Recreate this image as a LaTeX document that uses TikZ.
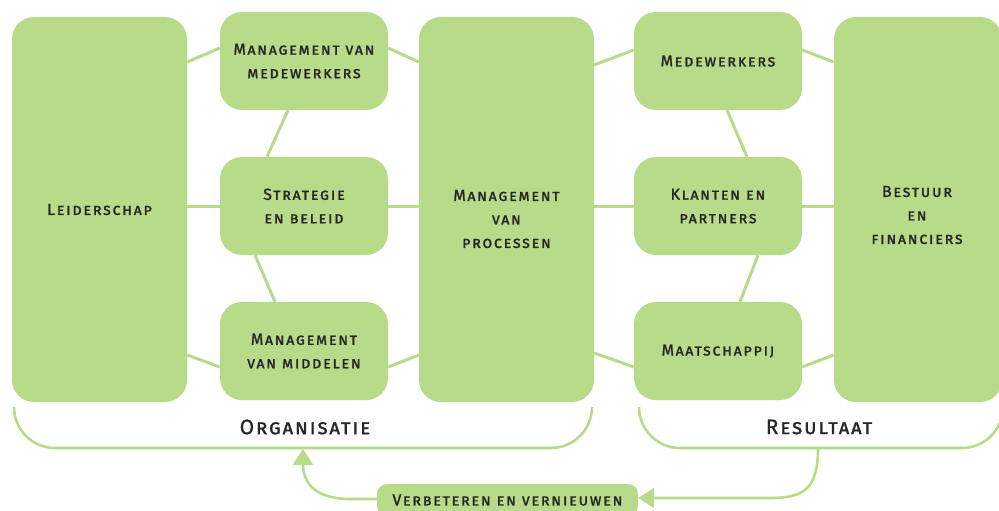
\documentclass[tikz,border=0pt]{standalone}
\usepackage{fontspec}
\setmainfont{Fira Sans}
\newfontfamily\boxfam{Fira Sans}[LetterSpace=10.0,FakeBold=1.2]
\newfontfamily\lblfam{Fira Sans}[LetterSpace=8.0,FakeBold=1.0]
\usetikzlibrary{arrows.meta,calc}
\definecolor{lgreen}{HTML}{B7DB89}
\definecolor{txtc}{HTML}{262626}
\newcommand\bxfont{\boxfam\fontsize{16}{23.5}\selectfont\scshape}
\newcommand\lbfont{\lblfam\fontsize{21}{24}\selectfont\scshape}
\begin{document}
\begin{tikzpicture}[x=1pt,y=-1pt,
  box/.style={fill=lgreen, rounded corners=22pt, inner sep=0pt, align=center, text=txtc, font=\bxfont},
  bigbox/.style={box, minimum width=175pt, minimum height=385pt},
  smallbox/.style={box, minimum width=168pt, minimum height=98pt},
  txtnode/.style={align=center, text=txtc, font=\bxfont, inner sep=0pt},
  lbl/.style={text=txtc, font=\lbfont, inner sep=0pt},
  conn/.style={draw=lgreen, line width=3pt},
  brace/.style={draw=lgreen, line width=2.6pt, rounded corners=41pt},
  fb/.style={draw=lgreen, line width=2.6pt, -{Triangle[length=16pt,width=20pt]}}]
\useasboundingbox (0,0) rectangle (999,511);
\clip (0,0) rectangle (999,511);
% big boxes
\node[bigbox] (L) at (99.5,209.5) {Leiderschap};
\node[bigbox] (P) at (506.5,209.5) {};
\node[txtnode] (Pt) at (506.5,219) {Management\\van\\processen};
\node[bigbox, minimum width=168pt] (B) at (918,209.5) {};
\node[txtnode] (Bt) at (917,215) {Bestuur\\en\\financiers};
% left column
\node[smallbox] (S1) at (304,61) {Management van\\medewerkers};
\node[smallbox] (S2) at (304,206) {Strategie\\en beleid};
\node[smallbox] (S3) at (304,351) {Management\\van middelen};
% right column
\node[smallbox] (R1) at (718,61) {Medewerkers};
\node[smallbox] (R2) at (718,206) {Klanten en\\partners};
\node[smallbox] (R3) at (718,351) {Maatschappij};
% connectors left
\draw[conn] ([yshift=147.5pt]L.east) -- ([yshift=13pt]S1.west);
\draw[conn] ([yshift=13pt]S1.east) -- ([yshift=147.5pt]P.west);
\draw[conn] (S2.west -| L.east) -- (S2.west);
\draw[conn] (S2.east) -- (S2.east -| P.west);
\draw[conn] ([yshift=-145.5pt]L.east) -- ([yshift=-16pt]S3.west);
\draw[conn] ([yshift=-16pt]S3.east) -- ([yshift=-145.5pt]P.west);
\draw[conn] ([xshift=-16pt]S1.south) -- ([xshift=-37pt]S2.north);
\draw[conn] ([xshift=-49pt]S2.south) -- ([xshift=-29pt]S3.north);
% connectors right
\draw[conn] ([yshift=144.5pt]P.east) -- ([yshift=11pt]R1.west);
\draw[conn] ([yshift=11pt]R1.east) -- ([yshift=147.5pt]B.west);
\draw[conn] (R2.west -| P.east) -- (R2.west);
\draw[conn] (R2.east) -- (R2.east -| B.west);
\draw[conn] ([yshift=-143.5pt]P.east) -- ([yshift=-16pt]R3.west);
\draw[conn] ([yshift=-16pt]R3.east) -- ([yshift=-145.5pt]B.west);
\draw[conn] ([xshift=9pt]R1.south) -- ([xshift=29pt]R2.north);
\draw[conn] ([xshift=40pt]R2.south) -- ([xshift=22pt]R3.north);
% braces
\coordinate (oa) at (14,407);
\coordinate (ob) at (592,407);
\coordinate (ra) at (639,407);
\coordinate (rb) at (1003,407);
\draw[brace] (oa) -- (14,448) -- (592,448) -- (ob);
\draw[brace] (ra) -- (639,448) -- (1003,448) -- (rb);
\node[lbl] (org) at (305,427) {Organisatie};
\node[lbl] (res) at (819,427) {Resultaat};
% feedback
\node[box, rounded corners=10pt, minimum width=261pt, minimum height=32pt] (V) at (507.5,500) {Verbeteren en vernieuwen};
\coordinate (rbot) at (818,448);
\coordinate (obot) at (303,449);
\draw[fb] (rbot) .. controls (818,488) and (805,498) .. (770,498) -- (V.east |- 0,498);
\draw[fb] (V.west |- 0,499) -- (350,499) .. controls (318,499) and (303,485) .. (obot);
\end{tikzpicture}
\end{document}
